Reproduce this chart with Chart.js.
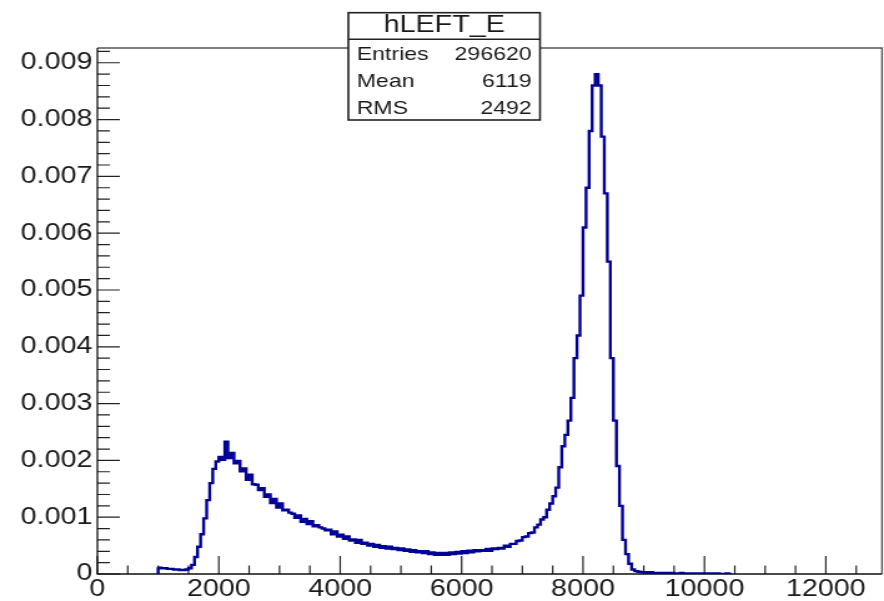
<!DOCTYPE html>
<html><head><meta charset="utf-8">
<script src="https://cdn.jsdelivr.net/npm/chart.js@4.4.1/dist/chart.umd.min.js"></script>
<style>
html,body{margin:0;padding:0;background:#fff;overflow:hidden;}
#wrap{width:708px;height:601px;transform:scaleX(1.248588);transform-origin:0 0;}
canvas{display:block;}
</style></head><body>
<div id="wrap"><canvas id="c" width="708" height="601"></canvas></div>
<script>
// ---- data (histogram hLEFT_E, normalised) ----
const binStart = 1000;
const binWidth = 50;
const binValues = [
  0.00012,0.00011,0.0001,0.0001,0.00009,0.00009,0.00008,0.00008,0.00007,0.00007,
  0.00008,0.0001,0.00016,0.0003,0.00048,0.0007,0.00098,0.0013,0.0016,0.00185,
  0.00198,0.00206,0.00201,0.00233,0.00204,0.00213,0.00195,0.00199,0.00181,0.00186,
  0.00166,0.00175,0.00158,0.00157,0.00148,0.00151,0.00136,0.0014,0.00125,0.00132,
  0.00117,0.00124,0.00112,0.00113,0.00108,0.00106,0.00099,0.00103,0.00092,0.00097,
  0.00088,0.00093,0.00084,0.00086,0.00082,0.0008,0.00077,0.00078,0.0007,0.00075,
  0.00066,0.00069,0.00062,0.00066,0.00059,0.00061,0.00055,0.0006,0.00053,0.00055,
  0.0005,0.00053,0.00048,0.00051,0.00046,0.00049,0.00045,0.00048,0.00044,0.00046,
  0.00042,0.00045,0.00041,0.00043,0.00039,0.00042,0.00038,0.0004,0.00037,0.0004,
  0.00035,0.00038,0.00034,0.00037,0.00034,0.00037,0.00034,0.00038,0.00035,0.00039,
  0.00036,0.0004,0.00037,0.00041,0.00038,0.00042,0.0004,0.00042,0.00041,0.00044,
  0.00041,0.00045,0.00044,0.00046,0.00045,0.0005,0.00048,0.00053,0.00053,0.00058,
  0.00059,0.00065,0.00066,0.00072,0.00073,0.00082,0.00087,0.00096,0.001,0.00113,
  0.00124,0.00137,0.00152,0.00188,0.00225,0.00245,0.0027,0.0031,0.0038,0.0042,
  0.0049,0.0061,0.0068,0.0078,0.0086,0.0088,0.0086,0.0077,0.0067,0.0055,
  0.0038,0.0027,0.0019,0.0012,0.0006,0.00035,0.00018,0.00008,0.00005,0.00004,
  0.00003,0.00003,0.00002,0.00003,0.00002,0.00002,0.00002,0.00001,0.00002,0.00001,
  0.00002,0.00001,0.00001,0.00002,0.00001,0.00001,0,0.00001,0.00001,0,
  0.00001,0,0.00001,0.00001,0,0.00001,0,0,0.00001
];
const xTicks = [0,2000,4000,6000,8000,10000,12000];
const yTicks = [0,0.001,0.002,0.003,0.004,0.005,0.006,0.007,0.008,0.009];
const xMin = 0, xMax = 12925;
const yMin = 0, yMax = 0.00926;
const statsTitle = 'hLEFT_E';
const statsRows = [['Entries','296620'],['Mean','6119'],['RMS','2492']];

// histogram points (bin low edges), closed at both ends
const points = [{x: binStart, y: 0}];
binValues.forEach((v, i) => points.push({x: binStart + i * binWidth, y: v}));
points.push({x: binStart + binValues.length * binWidth, y: 0});

const FONT = "'Liberation Sans', Arial, Helvetica, sans-serif";

const frameTicks = {
  id: 'frameTicks',
  beforeDatasetsDraw(chart) {
    const {ctx, chartArea: a, scales: {x, y}} = chart;
    ctx.save();
    ctx.strokeStyle = '#222';
    ctx.lineWidth = 1.2;
    ctx.beginPath();
    for (let k = 0; k * 500 <= xMax; k++) {
      const px = x.getPixelForValue(k * 500);
      const len = (k % 4 === 0) ? 18 : 8.5;
      ctx.moveTo(px, a.bottom); ctx.lineTo(px, a.bottom - len);
    }
    for (let k = 0; k * 0.0002 <= yMax + 1e-12; k++) {
      const py = y.getPixelForValue(k * 0.0002);
      const len = (k % 5 === 0) ? 18 : 10;
      ctx.moveTo(a.left, py); ctx.lineTo(a.left + len, py);
    }
    ctx.stroke();
    ctx.strokeStyle = '#555';
    ctx.lineWidth = 1.4;
    ctx.beginPath();
    ctx.moveTo(a.left, a.top); ctx.lineTo(a.right, a.top); ctx.lineTo(a.right, a.bottom);
    ctx.stroke();
    ctx.strokeStyle = '#111';
    ctx.lineWidth = 1.3;
    ctx.beginPath();
    ctx.moveTo(a.left, a.top); ctx.lineTo(a.left, a.bottom); ctx.lineTo(a.right, a.bottom);
    ctx.stroke();
    ctx.restore();
  },
  afterDraw(chart) {
    const ctx = chart.ctx;
    const L = 279, R = 432.5, T = 12.7, S = 39.3, B = 120;
    ctx.save();
    ctx.fillStyle = '#fff';
    ctx.fillRect(L, T, R - L, B - T);
    ctx.strokeStyle = '#222';
    ctx.lineWidth = 1.6;
    ctx.strokeRect(L, T, R - L, B - T);
    ctx.beginPath(); ctx.moveTo(L, S); ctx.lineTo(R, S); ctx.stroke();
    ctx.fillStyle = '#1a1a1a';
    ctx.font = '23px ' + FONT;
    ctx.textAlign = 'center';
    ctx.textBaseline = 'alphabetic';
    ctx.fillText(statsTitle, (L + R) / 2, 32);
    ctx.font = '18.5px ' + FONT;
    statsRows.forEach((r, i) => {
      const base = 60 + i * 27;
      ctx.textAlign = 'left';
      ctx.fillText(r[0], 285.7, base);
      ctx.textAlign = 'right';
      ctx.fillText(r[1], 425.8, base);
    });
    ctx.restore();
  }
};

new Chart(document.getElementById('c'), {
  type: 'line',
  data: {
    datasets: [{
      data: points,
      borderColor: 'rgb(0,0,150)',
      borderWidth: 2.4,
      pointRadius: 0,
      stepped: 'after',
      fill: false,
      tension: 0
    }]
  },
  options: {
    responsive: false,
    animation: false,
    devicePixelRatio: 1,
    layout: {padding: {top: 48, right: 1.6, left: 0, bottom: 0}},
    plugins: {legend: {display: false}, tooltip: {enabled: false}, title: {display: false}},
    scales: {
      x: {
        type: 'linear', min: xMin, max: xMax,
        grid: {display: false, drawTicks: false}, border: {display: false},
        afterBuildTicks: s => { s.ticks = xTicks.map(v => ({value: v})); },
        afterFit: s => { s.height = 27; },
        ticks: {
          padding: 2, maxRotation: 0, autoSkip: false, color: '#1a1a1a',
          font: {family: FONT, size: 23},
          callback: v => String(v)
        }
      },
      y: {
        type: 'linear', min: yMin, max: yMax,
        grid: {display: false, drawTicks: false}, border: {display: false},
        afterBuildTicks: s => { s.ticks = yTicks.map(v => ({value: v})); },
        afterFit: s => { s.width = 78; },
        ticks: {
          padding: 4, autoSkip: false, color: '#1a1a1a',
          font: {family: FONT, size: 23},
          callback: v => v === 0 ? '0' : Number(v).toFixed(3)
        }
      }
    }
  },
  plugins: [frameTicks]
});
</script></body></html>
